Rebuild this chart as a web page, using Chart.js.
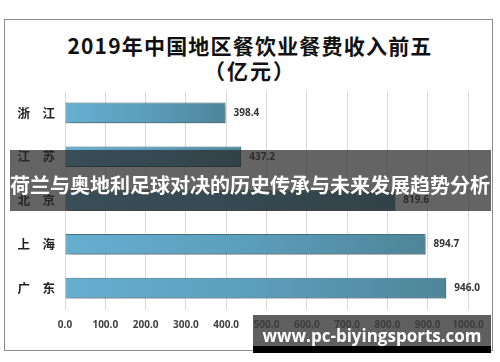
<!DOCTYPE html>
<html>
<head>
<meta charset="utf-8">
<script src="https://cdn.jsdelivr.net/npm/chart.js@4"></script>
<style>
  html, body { margin: 0; padding: 0; background: #fff; }
  #wrap { position: relative; width: 500px; height: 362px; overflow: hidden; }
  #frame { position: absolute; left: 4px; top: 19px; width: 489px; height: 332px; border: 1px solid #8c8c8c; box-sizing: border-box; }
  .title { position: absolute; left: 0; width: 500px; text-align: center; font-family: "Noto Sans CJK SC", sans-serif; font-weight: bold; color: #111; }
  #t1 { top: 32px; font-size: 21px; letter-spacing: 1.2px; line-height: 26px; }
  #t2 { top: 57px; font-size: 21px; letter-spacing: 2px; line-height: 26px; }
  canvas { position: absolute; left: 0; top: 0; }
  #band { position: absolute; left: 10px; top: 150px; width: 481px; height: 61px; background: rgba(40,40,40,0.72); }
  #bandText { position: absolute; left: 0; top: 170px; width: 500px; text-align: center; color: #fff; font-family: "Noto Sans CJK SC", sans-serif; font-weight: bold; font-size: 20px; line-height: 30px; white-space: nowrap; }
  #wm { position: absolute; left: 253px; top: 315px; width: 238px; height: 31px; background: rgba(60,60,60,0.82); }
  #wmBar { position: absolute; left: 253px; top: 346px; width: 238px; height: 7px; background: #000; }
  #wmText { position: absolute; left: 253px; top: 323px; width: 238px; text-align: center; color: #fff; font-family: "Open Sans", sans-serif; font-weight: bold; font-size: 17px; line-height: 26px; white-space: nowrap; }
</style>
</head>
<body>
<div id="wrap">
  <div id="frame"></div>
  <div class="title" id="t1">2019年中国地区餐饮业餐费收入前五</div>
  <div class="title" id="t2">（亿元）</div>
  <canvas id="chart" width="500" height="362"></canvas>
  <div id="band"></div>
  <div id="bandText">荷兰与奥地利足球对决的历史传承与未来发展趋势分析</div>
  <div id="wm"></div>
  <div id="wmBar"></div>
  <div id="wmText">www.pc-biyingsports.com</div>
</div>
<script>
const regions = ['浙　江', '江　苏', '北　京', '上　海', '广　东'];
const income = [398.4, 437.2, 819.6, 894.7, 946.0];
const axisMax = 1000;
const axisStep = 100;

// 柱子阴影
const shadowPlugin = {
    id: 'barShadow',
    beforeDatasetDraw(chart) {
        const c = chart.ctx;
        c.save();
        c.shadowColor = 'rgba(0,0,0,0.35)';
        c.shadowOffsetX = 2;
        c.shadowOffsetY = 2;
        c.shadowBlur = 3;
    },
    afterDatasetDraw(chart) {
        chart.ctx.restore();
    }
};

// 数值标签
const valueLabels = {
    id: 'valueLabels',
    afterDatasetsDraw(chart) {
        const c = chart.ctx;
        const meta = chart.getDatasetMeta(0);
        c.save();
        c.font = 'bold 10px "Open Sans", sans-serif';
        c.fillStyle = '#333';
        c.textBaseline = 'middle';
        meta.data.forEach((bar, i) => {
            c.fillText(income[i].toFixed(1), bar.x + 8, bar.y);
        });
        c.restore();
    }
};

function barGradient(context) {
    const chart = context.chart;
    const area = chart.chartArea;
    if (!area || !chart.scales.x) return '#5fa6c6';
    const x1 = chart.scales.x.getPixelForValue(income[context.dataIndex]);
    const g = chart.ctx.createLinearGradient(area.left, 0, x1, 0);
    g.addColorStop(0, '#66aed0');
    g.addColorStop(0.5, '#5c9ebd');
    g.addColorStop(1, '#4d8598');
    return g;
}

new Chart(document.getElementById('chart'), {
    type: 'bar',
    data: {
        labels: regions,
        datasets: [{
            data: income,
            backgroundColor: barGradient,
            borderColor: '#3f7284',
            borderWidth: 1,
            borderSkipped: false,
            barPercentage: 0.47,
            categoryPercentage: 1
        }]
    },
    plugins: [shadowPlugin, valueLabels],
    options: {
        indexAxis: 'y',
        responsive: false,
        animation: false,
        layout: { padding: { left: 5, right: 32, top: 91, bottom: 12 } },
        plugins: {
            legend: { display: false },
            tooltip: { enabled: false }
        },
        scales: {
            x: {
                min: 0,
                max: axisMax,
                ticks: {
                    stepSize: axisStep,
                    padding: 9,
                    color: '#404040',
                    font: { family: '"Open Sans", sans-serif', size: 10, weight: 'bold' },
                    callback: v => v.toFixed(1)
                },
                grid: { color: '#d9d9d9', drawTicks: false },
                border: { display: false },
                afterFit: s => { s.height = 40; }
            },
            y: {
                ticks: {
                    padding: 10,
                    color: '#222',
                    font: { family: '"Noto Sans CJK SC", sans-serif', size: 12.5, weight: 'bold' }
                },
                grid: { display: false, drawTicks: false },
                border: { display: false },
                afterFit: s => { s.width = 60; }
            }
        }
    }
});
</script>
</body>
</html>
